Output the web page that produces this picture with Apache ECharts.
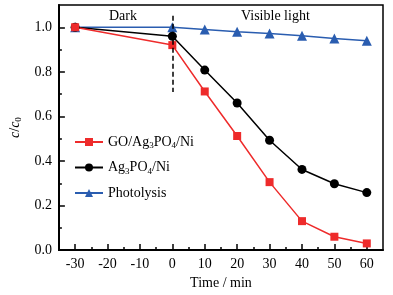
<!DOCTYPE html>
<html>
<head>
<meta charset="utf-8">
<script src="https://cdn.jsdelivr.net/npm/echarts@6/dist/echarts.min.js"></script>
<style>
html, body { margin: 0; padding: 0; background: #fff; }
#main { width: 393px; height: 295px; }
</style>
</head>
<body>
<div id="main"></div>
<script>
// 数据
var times = [-30, 0, 10, 20, 30, 40, 50, 60];
var goAgNi = [1.0, 0.92, 0.712, 0.512, 0.305, 0.13, 0.06, 0.03];
var agNi = [1.0, 0.96, 0.808, 0.66, 0.493, 0.362, 0.298, 0.258];
var photolysis = [1.0, 1.0, 0.99, 0.98, 0.972, 0.962, 0.95, 0.94];
var xMajor = [-30, -20, -10, 0, 10, 20, 30, 40, 50, 60];
var xMinor = [-25, -15, -5, 5, 15, 25, 35, 45, 55];
var yMajor = [0, 0.2, 0.4, 0.6, 0.8, 1.0];
var yMinor = [0.1, 0.3, 0.5, 0.7, 0.9];
var darkLine = [[0, 1.052], [0, 0.71]];

var font = 'Liberation Serif';
var red = '#ee2b2b', black = '#000000', blue = '#2a5db0';

function pairs(ys) {
    return times.map(function (t, i) { return [t, ys[i]]; });
}

var myChart = echarts.init(document.getElementById('main'));

var option = {
    animation: false,
    textStyle: { fontFamily: font },
    grid: {
        left: 48, right: 10, top: 5, bottom: 39,
        show: true, borderColor: '#000', borderWidth: 1.5
    },
    legend: {
        orient: 'vertical',
        left: 69, top: 130,
        itemWidth: 28, itemHeight: 10, itemGap: 10,
        data: ['GO/Ag3PO4/Ni', 'Ag3PO4/Ni', 'Photolysis'],
        formatter: function (name) {
            return name.replace(/Ag3PO4/, 'Ag{s|3}PO{s|4}');
        },
        textStyle: {
            fontFamily: font, fontSize: 14, color: '#000',
            rich: { s: { fontFamily: font, fontSize: 9, color: '#000', padding: [8, 0, 0, 0] } }
        }
    },
    xAxis: [{
        type: 'value', min: -35, max: 65,
        name: 'Time / min', nameLocation: 'middle', nameGap: 25,
        nameTextStyle: { fontFamily: font, fontSize: 14, color: '#000' },
        axisLine: { onZero: false, lineStyle: { color: '#000', width: 2 } },
        axisTick: { inside: true, length: 6, customValues: xMajor, lineStyle: { color: '#000', width: 1.5 } },
        axisLabel: { customValues: xMajor, fontFamily: font, fontSize: 14, color: '#000', margin: 7 },
        splitLine: { show: false }
    }, {
        type: 'value', min: -35, max: 65, position: 'bottom',
        axisLine: { show: false, onZero: false },
        axisTick: { inside: true, length: 3, customValues: xMinor, lineStyle: { color: '#000', width: 1.5 } },
        axisLabel: { show: false },
        splitLine: { show: false }
    }],
    yAxis: [{
        type: 'value', min: 0, max: 1.1,
        name: '{i|c}/{i|c}{s|0}', nameLocation: 'middle', nameGap: 30,
        nameTextStyle: {
            fontFamily: font, fontSize: 14, color: '#000',
            rich: {
                i: { fontFamily: font, fontSize: 14, fontStyle: 'italic', color: '#000' },
                s: { fontFamily: font, fontSize: 9, color: '#000', padding: [8, 0, 0, 0] }
            }
        },
        axisLine: { onZero: false, lineStyle: { color: '#000', width: 2 } },
        axisTick: { inside: true, length: 6, customValues: yMajor, lineStyle: { color: '#000', width: 1.5 } },
        axisLabel: {
            customValues: yMajor, fontFamily: font, fontSize: 14, color: '#000', margin: 7,
            formatter: function (v) { return v.toFixed(1); }
        },
        splitLine: { show: false }
    }, {
        type: 'value', min: 0, max: 1.1, position: 'left',
        axisLine: { show: false, onZero: false },
        axisTick: { inside: true, length: 3, customValues: yMinor, lineStyle: { color: '#000', width: 1.5 } },
        axisLabel: { show: false },
        splitLine: { show: false }
    }],
    graphic: [
        { type: 'text', left: 109, top: 9, style: { text: 'Dark', font: '14px "Liberation Serif"', fill: '#000' } },
        { type: 'text', left: 241, top: 9, style: { text: 'Visible light', font: '14px "Liberation Serif"', fill: '#000' } }
    ],
    series: [{
        name: 'Photolysis', type: 'line', data: pairs(photolysis),
        symbol: 'triangle', symbolSize: 10,
        itemStyle: { color: blue }, lineStyle: { color: blue, width: 1.5 }
    }, {
        name: 'Ag3PO4/Ni', type: 'line', data: pairs(agNi),
        symbol: 'circle', symbolSize: 9,
        itemStyle: { color: black }, lineStyle: { color: black, width: 1.5 },
        markLine: {
            silent: true, symbol: 'none', label: { show: false },
            lineStyle: { color: '#000', type: [5, 3], width: 1.5 },
            data: [[{ coord: darkLine[0] }, { coord: darkLine[1] }]]
        }
    }, {
        name: 'GO/Ag3PO4/Ni', type: 'line', data: pairs(goAgNi),
        symbol: 'rect', symbolSize: 8,
        itemStyle: { color: red }, lineStyle: { color: red, width: 1.5 }
    }]
};

myChart.setOption(option);
</script>
</body>
</html>
